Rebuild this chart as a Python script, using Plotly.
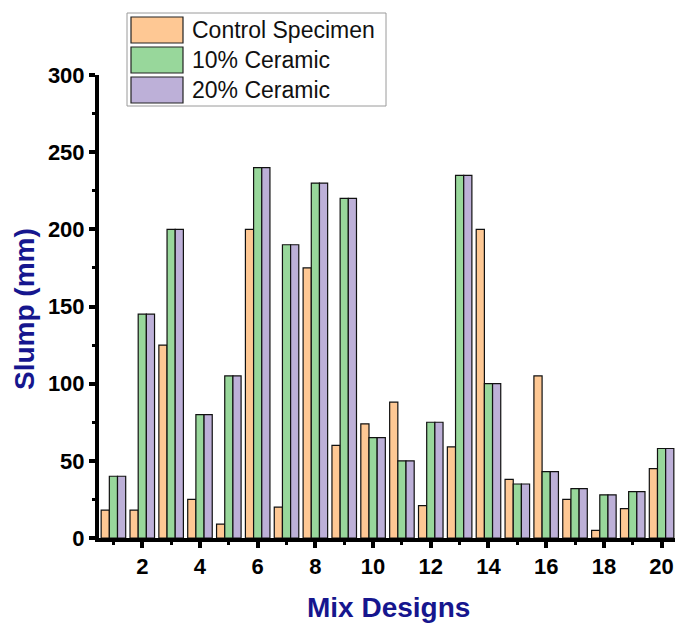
import plotly.graph_objects as go

# Slump test results for 20 mix designs
mix_designs = list(range(1, 21))
series_names = ["Control Specimen", "10% Ceramic", "20% Ceramic"]
control = [18, 18, 125, 25, 9, 200, 20, 175, 60, 74, 88, 21, 59, 200, 38, 105, 25, 5, 19, 45]
ceramic_10 = [40, 145, 200, 80, 105, 240, 190, 230, 220, 65, 50, 75, 235, 100, 35, 43, 32, 28, 30, 58]
ceramic_20 = [40, 145, 200, 80, 105, 240, 190, 230, 220, 65, 50, 75, 235, 100, 35, 43, 32, 28, 30, 58]
x_tick_vals = [2, 4, 6, 8, 10, 12, 14, 16, 18, 20]
y_tick_vals = [0, 50, 100, 150, 200, 250, 300]

colors = ["#FEC894", "#98D79B", "#BDB0D8"]
title_color = "#16168E"
FONT = "Arial, Liberation Sans, sans-serif"

W, H = 675, 623
ML, MR, MT, MB = 99, 0, 75, 85
PW, PH = W - ML - MR, H - MT - MB


def px_x(p):
    return (p - ML) / PW


def px_y(p):
    return (H - MB - p) / PH


fig = go.Figure()
for name, vals, col in zip(series_names, [control, ceramic_10, ceramic_20], colors):
    fig.add_trace(go.Bar(
        x=mix_designs, y=vals, name=name,
        marker=dict(color=col, line=dict(color="#111111", width=1.2)),
        showlegend=False,
    ))

# Legend box with large swatches
shapes = [dict(type="rect", xref="paper", yref="paper",
               x0=px_x(127), x1=px_x(386), y0=px_y(106), y1=px_y(13),
               line=dict(color="#9a9a9a", width=1), fillcolor="white", layer="above")]
annotations = []
rows = [(17, 43), (47, 73), (77, 103)]
for (t, b), name, col in zip(rows, series_names, colors):
    shapes.append(dict(type="rect", xref="paper", yref="paper",
                       x0=px_x(131), x1=px_x(183), y0=px_y(b), y1=px_y(t),
                       line=dict(color="#222222", width=1.2), fillcolor=col, layer="above"))
    annotations.append(dict(xref="paper", yref="paper", x=px_x(190), y=px_y((t + b) / 2),
                            text=name, showarrow=False, xanchor="left", yanchor="middle",
                            font=dict(family=FONT, size=23, color="#111111")))

# Axis titles
annotations.append(dict(xref="paper", yref="paper", x=px_x(24), y=px_y(309),
                        text="Slump (mm)", textangle=-90, showarrow=False,
                        xanchor="center", yanchor="middle",
                        font=dict(family=FONT, size=28, color=title_color, weight="bold")))
annotations.append(dict(xref="paper", yref="paper", x=px_x(388), y=px_y(607),
                        text="Mix Designs", showarrow=False,
                        xanchor="center", yanchor="middle",
                        font=dict(family=FONT, size=28, color=title_color, weight="bold")))

fig.update_layout(
    width=W, height=H,
    margin=dict(l=ML, r=MR, t=MT, b=MB),
    plot_bgcolor="white", paper_bgcolor="white",
    barmode="group", bargap=0.15, bargroupgap=0,
    shapes=shapes, annotations=annotations,
    xaxis=dict(
        range=[0.5, 0.5 + PW / 28.85],
        tickmode="array", tickvals=x_tick_vals,
        ticks="outside", ticklen=6, tickwidth=3.5, tickcolor="black",
        minor=dict(dtick=1, tick0=1, ticks="outside", ticklen=3, tickwidth=2.5, tickcolor="black"),
        showline=True, linecolor="black", linewidth=4,
        showgrid=False, zeroline=False,
        tickfont=dict(family=FONT, size=22, color="black", weight="bold"),
    ),
    yaxis=dict(
        range=[0, 300],
        tickmode="array", tickvals=y_tick_vals,
        ticks="outside", ticklen=6, tickwidth=3.5, tickcolor="black",
        minor=dict(dtick=25, tick0=0, ticks="outside", ticklen=3, tickwidth=2.5, tickcolor="black"),
        showline=True, linecolor="black", linewidth=4,
        showgrid=False, zeroline=False,
        tickfont=dict(family=FONT, size=22, color="black", weight="bold"),
    ),
)

fig.write_html("out.html")
